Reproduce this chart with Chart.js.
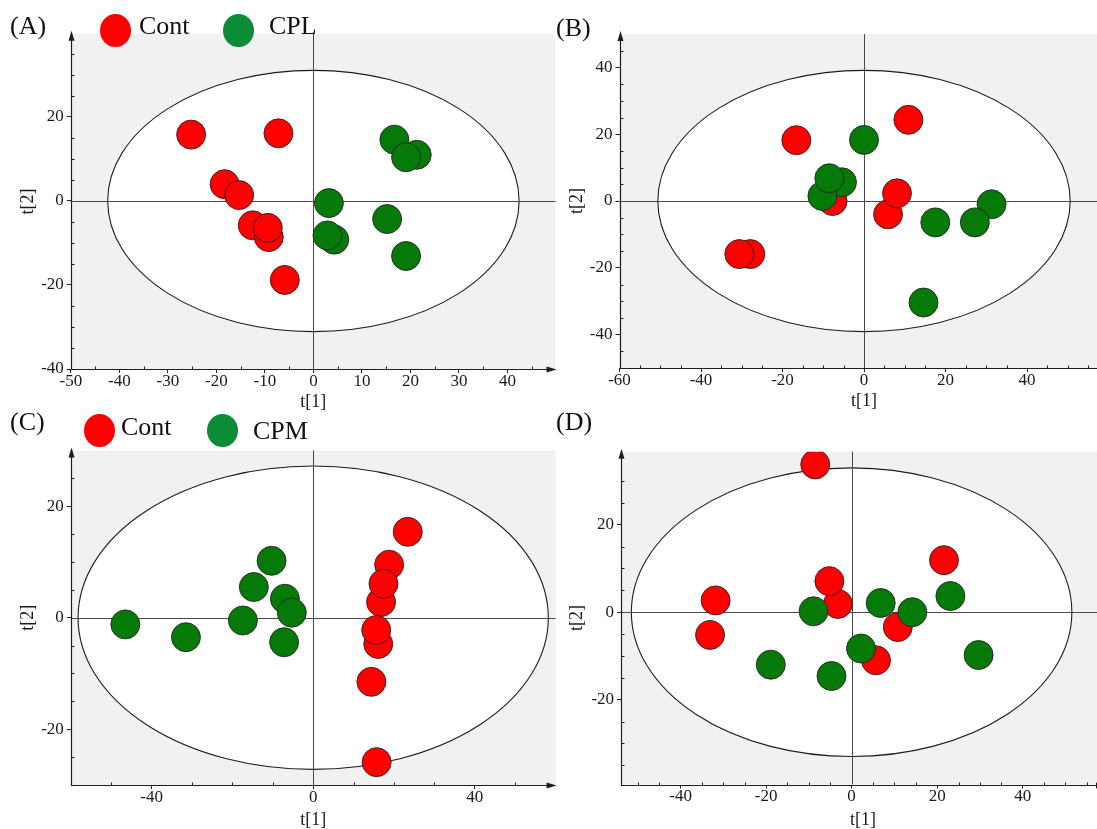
<!DOCTYPE html>
<html>
<head>
<meta charset="utf-8">
<title>PCA score plots</title>
<script src="https://cdn.jsdelivr.net/npm/chart.js@4.4.1/dist/chart.umd.min.js"></script>
<style>
  html, body { margin: 0; padding: 0; background: #fff; overflow: hidden; width: 1097px; height: 829px; }
  body { position: relative; font-family: 'Liberation Serif', 'Times New Roman', serif; color: #111; }
  canvas { position: absolute; }
  .tag { position: absolute; font-size: 26px; line-height: 26px; white-space: nowrap; }
  .dot { position: absolute; width: 31px; height: 33px; border-radius: 50%; }
</style>
</head>
<body>
<canvas id="pA" width="560" height="415" style="left:0;top:0"></canvas>
<canvas id="pB" width="550" height="415" style="left:560px;top:0"></canvas>
<canvas id="pC" width="560" height="420" style="left:0;top:415px"></canvas>
<canvas id="pD" width="550" height="420" style="left:560px;top:415px"></canvas>

<div class="tag" style="left:10px;top:13px">(A)</div>
<div class="dot" style="left:100px;top:14px;background:#ff0000"></div>
<div class="tag" style="left:139px;top:13px">Cont</div>
<div class="dot" style="left:223px;top:14px;background:#0b8c36"></div>
<div class="tag" style="left:269px;top:13px">CPL</div>

<div class="tag" style="left:556px;top:15px">(B)</div>

<div class="tag" style="left:10px;top:409px">(C)</div>
<div class="dot" style="left:84px;top:414px;background:#ff0000"></div>
<div class="tag" style="left:121px;top:414px">Cont</div>
<div class="dot" style="left:207px;top:414px;background:#0b8c36"></div>
<div class="tag" style="left:253px;top:418px">CPM</div>

<div class="tag" style="left:556px;top:409px">(D)</div>

<script>
// ---- Panel A: Cont vs CPL scores ----
const aGroups = ['Cont', 'CPL'];
const aContT1 = [-25.2, -7.2, -18.3, -15.3, -12.5, -9.2, -9.4, -5.9];
const aContT2 = [15.8, 16.1, 4.0, 1.4, -5.8, -8.6, -6.4, -18.8];
const aCplT1 = [16.7, 21.3, 19.1, 4.3, 2.9, 3.2, 15.2, 19.1];
const aCplT2 = [14.6, 11.0, 10.4, -9.2, -8.2, -0.5, -4.3, -13.1];
const aXTicks = [-50, -40, -30, -20, -10, 0, 10, 20, 30, 40];
const aYTicks = [-40, -20, 0, 20];
const aEllipse = [42.4, 31.1];

// ---- Panel B ----
const bGroups = ['Cont', 'CPL'];
const bContT1 = [-27.9, -30.6, -16.6, -7.7, 5.9, 8.1, 10.9];
const bContT2 = [-15.9, -15.9, 18.2, 0.0, -4.0, 2.3, 24.3];
const bCplT1 = [0.0, -5.4, -10.2, -8.5, 17.5, 31.3, 27.2, 14.6];
const bCplT2 = [18.3, 5.6, 1.5, 6.8, -6.4, -1.0, -6.4, -30.4];
const bXTicks = [-60, -40, -20, 0, 20, 40];
const bYTicks = [-40, -20, 0, 20, 40];
const bEllipse = [50.6, 39.1];

// ---- Panel C: Cont vs CPM scores ----
const cGroups = ['Cont', 'CPM'];
const cContT1 = [23.4, 18.8, 16.8, 17.4, 16.1, 15.6, 14.4, 15.7];
const cContT2 = [15.4, 9.5, 2.8, 6.1, -4.7, -2.2, -11.5, -25.9];
const cCpmT1 = [-46.5, -31.5, -17.4, -14.7, -10.3, -7.0, -5.3, -7.2];
const cCpmT2 = [-1.2, -3.5, -0.5, 5.5, 10.2, 3.4, 0.9, -4.4];
const cXTicks = [-40, 0, 40];
const cYTicks = [-20, 0, 20];
const cEllipse = [58.2, 27.2];

// ---- Panel D ----
const dGroups = ['Cont', 'CPM'];
const dContT1 = [-8.5, 21.6, -3.2, -5.2, -31.8, -33.1, 10.8, 5.7];
const dContT2 = [33.8, 11.9, 1.9, 7.1, 2.7, -5.2, -3.4, -11.0];
const dCpmT1 = [-8.9, -18.9, -4.7, 2.2, 6.8, 14.2, 23.1, 29.7];
const dCpmT2 = [0.2, -12.0, -14.6, -8.3, 2.1, 0.0, 3.7, -9.8];
const dXTicks = [-40, -20, 0, 20, 40];
const dYTicks = [-20, 0, 20];
const dEllipse = [51.5, 33.0];

const RED = '#ff0000';
const GREEN = '#067a08';
const SERIF = "'Liberation Serif', 'Times New Roman', serif";

const pairs = (xs, ys) => xs.map((v, i) => ({ x: v, y: ys[i] }));

// Shaded plot area, Hotelling ellipse, origin lines, arrowed axes and minor ticks
const scoreFrame = {
  id: 'scoreFrame',
  beforeDraw(chart, args, opts) {
    const { ctx, chartArea: a, scales: { x, y } } = chart;
    const cx = x.getPixelForValue(0);
    const cy = y.getPixelForValue(0);
    const rx = Math.abs(x.getPixelForValue(opts.ellipse[0]) - cx);
    const ry = Math.abs(y.getPixelForValue(opts.ellipse[1]) - cy);
    ctx.save();
    ctx.fillStyle = '#f1f1f1';
    ctx.fillRect(a.left, a.top, a.right - a.left, a.bottom - a.top);
    ctx.beginPath();
    ctx.ellipse(cx, cy, rx, ry, 0, 0, Math.PI * 2);
    ctx.fillStyle = '#ffffff';
    ctx.fill();
    ctx.lineWidth = 1.1;
    ctx.strokeStyle = '#1c1c1c';
    ctx.stroke();
    ctx.beginPath();
    const ox = Math.round(cx) + 0.5, oy = Math.round(cy) + 0.5;
    ctx.moveTo(a.left, oy); ctx.lineTo(a.right, oy);
    ctx.moveTo(ox, a.top); ctx.lineTo(ox, a.bottom);
    ctx.lineWidth = 1;
    ctx.strokeStyle = '#4a4a4a';
    ctx.stroke();
    ctx.restore();
  },
  beforeDatasetsDraw(chart, args, opts) {
    const { ctx, chartArea: a, scales: { x, y } } = chart;
    const L = Math.round(a.left) + 0.5;
    const B = Math.round(a.bottom) + 0.5;
    ctx.save();
    ctx.strokeStyle = '#1e1e1e';
    ctx.fillStyle = '#1e1e1e';
    ctx.lineWidth = 1.2;
    ctx.beginPath();
    ctx.moveTo(L, a.top + 4); ctx.lineTo(L, B); ctx.lineTo(a.right - 4, B);
    ctx.stroke();
    // arrow heads
    ctx.beginPath();
    ctx.moveTo(L, a.top - 3); ctx.lineTo(L - 3, a.top + 7); ctx.lineTo(L + 3, a.top + 7); ctx.closePath();
    ctx.fill();
    ctx.beginPath();
    ctx.moveTo(a.right + 1, B); ctx.lineTo(a.right - 9, B - 3); ctx.lineTo(a.right - 9, B + 3); ctx.closePath();
    ctx.fill();
    // minor ticks pointing inward
    ctx.lineWidth = 1;
    ctx.beginPath();
    const [sx, sy] = opts.minor;
    for (let v = Math.ceil(x.min / sx) * sx; v <= x.max - sx * 0.5; v += sx) {
      if (opts.xMajor.includes(v)) continue;
      const px = Math.round(x.getPixelForValue(v)) + 0.5;
      ctx.moveTo(px, B); ctx.lineTo(px, B - 3);
    }
    for (let v = Math.ceil(y.min / sy) * sy; v <= y.max - sy * 0.5; v += sy) {
      if (opts.yMajor.includes(v)) continue;
      const py = Math.round(y.getPixelForValue(v)) + 0.5;
      ctx.moveTo(L, py); ctx.lineTo(L + 3, py);
    }
    ctx.stroke();
    ctx.restore();
  }
};

function scorePlot(id, p) {
  const tickFont = { family: SERIF, size: 17, lineHeight: 1 };
  const titleFont = { family: SERIF, size: 18 };
  return new Chart(document.getElementById(id), {
    type: 'scatter',
    data: {
      datasets: [
        { label: p.groups[0], data: pairs(p.contX, p.contY), backgroundColor: RED, order: 1, clip: 0 },
        { label: p.groups[1], data: pairs(p.trtX, p.trtY), backgroundColor: GREEN, order: 0, clip: 0 }
      ]
    },
    plugins: [scoreFrame],
    options: {
      responsive: false,
      animation: false,
      events: [],
      layout: { padding: p.pad, autoPadding: false },
      elements: { point: { radius: 14.5, borderWidth: 0.9, borderColor: '#262626', hoverRadius: 14.5 } },
      plugins: {
        legend: { display: false },
        tooltip: { enabled: false },
        scoreFrame: { ellipse: p.ellipse, minor: p.minor, xMajor: p.xTicks, yMajor: p.yTicks }
      },
      scales: {
        x: {
          type: 'linear', min: p.xRange[0], max: p.xRange[1],
          afterBuildTicks: s => { s.ticks = p.xTicks.map(v => ({ value: v })); },
          afterFit: s => { s.height = p.xH; },
          grid: { drawOnChartArea: false, drawTicks: true, tickLength: 4, color: '#222', lineWidth: 1 },
          border: { display: false },
          ticks: { font: tickFont, color: '#1a1a1a', padding: 0, maxRotation: 0, autoSkip: false },
          title: { display: true, text: 't[1]', font: titleFont, color: '#1a1a1a', padding: { top: 0, bottom: p.xTitlePad } }
        },
        y: {
          type: 'linear', min: p.yRange[0], max: p.yRange[1],
          afterBuildTicks: s => { s.ticks = p.yTicks.map(v => ({ value: v })); },
          afterFit: s => { s.width = p.yW; },
          grid: { drawOnChartArea: false, drawTicks: true, tickLength: 4, color: '#222', lineWidth: 1 },
          border: { display: false },
          ticks: { font: tickFont, color: '#1a1a1a', padding: 3, autoSkip: false },
          title: { display: true, text: 't[2]', font: titleFont, color: '#1a1a1a', padding: { top: p.yTitlePad, bottom: 0 } }
        }
      }
    }
  });
}

scorePlot('pA', {
  groups: aGroups, contX: aContT1, contY: aContT2, trtX: aCplT1, trtY: aCplT2,
  xTicks: aXTicks, yTicks: aYTicks, ellipse: aEllipse,
  xRange: [-50, 49.9], yRange: [-40, 39.8], minor: [5, 5],
  pad: { left: 0, top: 33.8, right: 4.5, bottom: 0 }, yW: 70.8, xH: 46, xTitlePad: 2.2, yTitlePad: 17.7
});
scorePlot('pB', {
  groups: bGroups, contX: bContT1, contY: bContT2, trtX: bCplT1, trtY: bCplT2,
  xTicks: bXTicks, yTicks: bYTicks, ellipse: bEllipse,
  xRange: [-60, 60], yRange: [-50, 50], minor: [5, 5],
  pad: { left: 0, top: 34, right: 1.5, bottom: 0 }, yW: 59.5, xH: 47, xTitlePad: 2.5, yTitlePad: 6.2
});
scorePlot('pC', {
  groups: cGroups, contX: cContT1, contY: cContT2, trtX: cCpmT1, trtY: cCpmT2,
  xTicks: cXTicks, yTicks: cYTicks, ellipse: cEllipse,
  xRange: [-60, 60], yRange: [-30, 30], minor: [10, 5],
  pad: { left: 0, top: 35.4, right: 4.4, bottom: 0 }, yW: 70.8, xH: 50, xTitlePad: 3.5, yTitlePad: 17.7
});
scorePlot('pD', {
  groups: dGroups, contX: dContT1, contY: dContT2, trtX: dCpmT1, trtY: dCpmT2,
  xTicks: dXTicks, yTicks: dYTicks, ellipse: dEllipse,
  xRange: [-53.9, 59.25], yRange: [-39.4, 36.7], minor: [5, 5],
  pad: { left: 0, top: 36.7, right: 5, bottom: 0 }, yW: 61.1, xH: 50.5, xTitlePad: 3.5, yTitlePad: 6.6
});
</script>
</body>
</html>
